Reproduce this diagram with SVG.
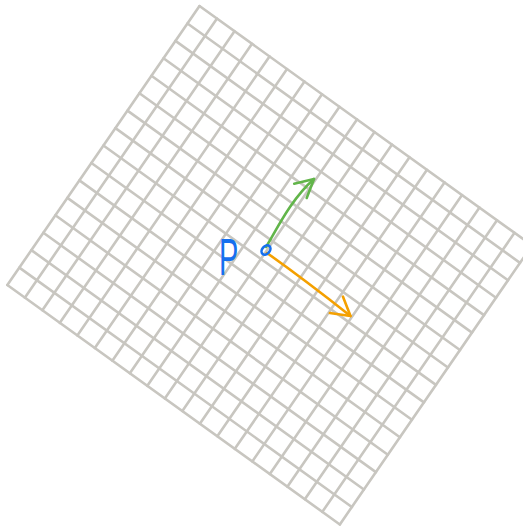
<svg xmlns="http://www.w3.org/2000/svg" width="523" height="527" viewBox="0 0 523 527">
  <style>
    .grid line { stroke: #c8c6c0; stroke-width: 2.6; vector-effect: non-scaling-stroke; stroke-linecap: round; }
    .arrow { fill: none; stroke-width: 2.6; stroke-linecap: round; stroke-linejoin: round; }
    .label { font-family: "Liberation Sans", Arial, sans-serif; font-size: 50px; fill: #1570ef; }
  </style>
  <defs>
    <marker id="head-green" markerUnits="userSpaceOnUse" markerWidth="40" markerHeight="40" viewBox="-30 -20 40 40" refX="0" refY="0" orient="auto" overflow="visible">
      <path d="M -18 -9.5 L 0 0 L -18 9.5" fill="none" stroke="#62b54a" stroke-width="2.6" stroke-linecap="round" stroke-linejoin="round"/>
    </marker>
    <marker id="head-orange" markerUnits="userSpaceOnUse" markerWidth="40" markerHeight="40" viewBox="-30 -20 40 40" refX="0" refY="0" orient="auto" overflow="visible">
      <path d="M -18 -10.5 L 0 0 L -18 10.5" fill="none" stroke="#f4a000" stroke-width="2.6" stroke-linecap="round" stroke-linejoin="round"/>
    </marker>
  </defs>
  <rect width="523" height="527" fill="#ffffff"/>

  <g id="grid" class="grid" transform="matrix(17.5 12.6 -12.01 17.44 199.5 6)">
    <line x1="0" y1="0" x2="0" y2="16"/>
    <line x1="1" y1="0" x2="1" y2="16"/>
    <line x1="2" y1="0" x2="2" y2="16"/>
    <line x1="3" y1="0" x2="3" y2="16"/>
    <line x1="4" y1="0" x2="4" y2="16"/>
    <line x1="5" y1="0" x2="5" y2="16"/>
    <line x1="6" y1="0" x2="6" y2="16"/>
    <line x1="7" y1="0" x2="7" y2="16"/>
    <line x1="8" y1="0" x2="8" y2="16"/>
    <line x1="9" y1="0" x2="9" y2="16"/>
    <line x1="10" y1="0" x2="10" y2="16"/>
    <line x1="11" y1="0" x2="11" y2="16"/>
    <line x1="12" y1="0" x2="12" y2="16"/>
    <line x1="13" y1="0" x2="13" y2="16"/>
    <line x1="14" y1="0" x2="14" y2="16"/>
    <line x1="15" y1="0" x2="15" y2="16"/>
    <line x1="16" y1="0" x2="16" y2="16"/>
    <line x1="17" y1="0" x2="17" y2="16"/>
    <line x1="18" y1="0" x2="18" y2="16"/>
    <line x1="19" y1="0" x2="19" y2="16"/>
    <line x1="0" y1="0" x2="19" y2="0"/>
    <line x1="0" y1="1" x2="19" y2="1"/>
    <line x1="0" y1="2" x2="19" y2="2"/>
    <line x1="0" y1="3" x2="19" y2="3"/>
    <line x1="0" y1="4" x2="19" y2="4"/>
    <line x1="0" y1="5" x2="19" y2="5"/>
    <line x1="0" y1="6" x2="19" y2="6"/>
    <line x1="0" y1="7" x2="19" y2="7"/>
    <line x1="0" y1="8" x2="19" y2="8"/>
    <line x1="0" y1="9" x2="19" y2="9"/>
    <line x1="0" y1="10" x2="19" y2="10"/>
    <line x1="0" y1="11" x2="19" y2="11"/>
    <line x1="0" y1="12" x2="19" y2="12"/>
    <line x1="0" y1="13" x2="19" y2="13"/>
    <line x1="0" y1="14" x2="19" y2="14"/>
    <line x1="0" y1="15" x2="19" y2="15"/>
    <line x1="0" y1="16" x2="19" y2="16"/>
  </g>

  <g id="connectors">
    <path id="arrow-green" class="arrow" stroke="#62b54a" d="M 266 247 C 275 233, 290 200, 314 179" marker-end="url(#head-green)"/>
    <path id="arrow-orange" class="arrow" stroke="#f4a000" d="M 267 253 Q 305 280 350.5 316" marker-end="url(#head-orange)"/>
  </g>

  <g id="point-P">
    <ellipse cx="266" cy="250" rx="5.2" ry="3.8" transform="rotate(-50 266 250)" fill="none" stroke="#1570ef" stroke-width="2.6"/>
    <text class="label" transform="translate(219 275) scale(0.58 1.05)" x="0" y="0">P</text>
  </g>
</svg>
